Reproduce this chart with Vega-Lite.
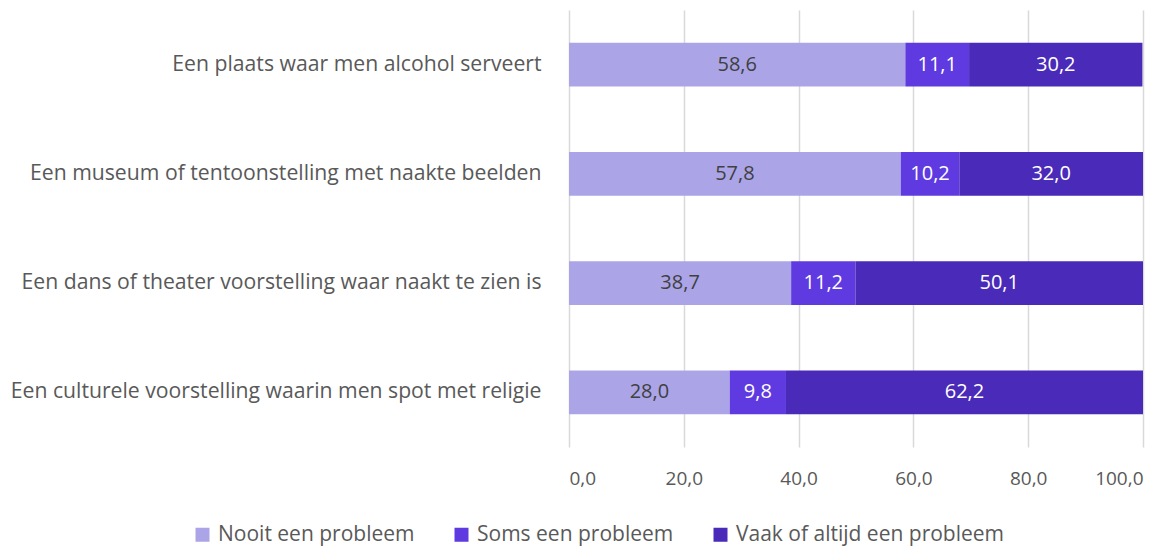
{
  "$schema": "https://vega.github.io/schema/vega-lite/v6.json",
  "autosize": {"type": "none"},
  "width": 574,
  "height": 437,
  "padding": {"left": 569, "top": 10, "right": 32, "bottom": 101},
  "config": {
    "view": {"stroke": null},
    "font": "Open Sans",
    "locale": {"number": {"decimal": ",", "thousands": ".", "grouping": [3], "currency": ["€", ""]}}
  },
  "data": {
    "values": [
      {"item": "Een plaats waar men alcohol serveert", "cat": "Nooit een probleem", "value": 58.6},
      {"item": "Een plaats waar men alcohol serveert", "cat": "Soms een probleem", "value": 11.1},
      {"item": "Een plaats waar men alcohol serveert", "cat": "Vaak of altijd een probleem", "value": 30.2},
      {"item": "Een museum of tentoonstelling met naakte beelden", "cat": "Nooit een probleem", "value": 57.8},
      {"item": "Een museum of tentoonstelling met naakte beelden", "cat": "Soms een probleem", "value": 10.2},
      {"item": "Een museum of tentoonstelling met naakte beelden", "cat": "Vaak of altijd een probleem", "value": 32.0},
      {"item": "Een dans of theater voorstelling waar naakt te zien is", "cat": "Nooit een probleem", "value": 38.7},
      {"item": "Een dans of theater voorstelling waar naakt te zien is", "cat": "Soms een probleem", "value": 11.2},
      {"item": "Een dans of theater voorstelling waar naakt te zien is", "cat": "Vaak of altijd een probleem", "value": 50.1},
      {"item": "Een culturele voorstelling waarin men spot met religie", "cat": "Nooit een probleem", "value": 28.0},
      {"item": "Een culturele voorstelling waarin men spot met religie", "cat": "Soms een probleem", "value": 9.8},
      {"item": "Een culturele voorstelling waarin men spot met religie", "cat": "Vaak of altijd een probleem", "value": 62.2}
    ]
  },
  "transform": [
    {"stack": "value", "groupby": ["item"], "sort": [{"field": "cat", "order": "ascending"}], "as": ["v0", "v1"]}
  ],
  "encoding": {
    "y": {
      "field": "item", "type": "nominal", "sort": null,
      "scale": {"paddingInner": 0.6, "paddingOuter": 0.3},
      "axis": {"title": null, "domain": false, "ticks": false, "labelPadding": 28, "labelFontSize": 21.2, "labelColor": "#595959", "labelLimit": 600}
    }
  },
  "layer": [
    {
      "mark": {"type": "bar"},
      "encoding": {
        "x": {
          "field": "v0", "type": "quantitative",
          "scale": {"domain": [0, 100], "nice": false},
          "axis": {"title": null, "values": [0, 20, 40, 60, 80, 100], "format": ".1f", "domain": false, "ticks": false, "grid": true, "gridColor": "#D9D9D9", "gridWidth": 1.5, "labelPadding": 22, "labelFontSize": 19, "labelColor": "#595959"}
        },
        "x2": {"field": "v1"},
        "color": {
          "field": "cat", "type": "nominal",
          "scale": {"domain": ["Nooit een probleem", "Soms een probleem", "Vaak of altijd een probleem"], "range": ["#ABA5E8", "#5E3AE0", "#4A2AB8"]},
          "legend": {"title": null, "orient": "none", "direction": "horizontal", "legendX": -377, "legendY": 514, "symbolType": "square", "symbolSize": 196, "symbolStrokeWidth": 0, "labelFontSize": 21, "labelColor": "#595959", "labelLimit": 400, "columnPadding": 36, "labelOffset": 5}
        }
      }
    },
    {
      "transform": [
        {"fold": ["v0", "v1"], "as": ["edge", "pos"]},
        {"aggregate": [{"op": "mean", "field": "pos", "as": "mid"}], "groupby": ["item", "cat", "value"]}
      ],
      "mark": {"type": "text", "fontSize": 20, "baseline": "middle", "align": "center"},
      "encoding": {
        "x": {"field": "mid", "type": "quantitative"},
        "text": {"field": "value", "type": "quantitative", "format": ".1f"},
        "color": {
          "condition": {"test": "datum.cat == 'Nooit een probleem'", "value": "#404040"},
          "value": "#FFFFFF"
        }
      }
    }
  ]
}
